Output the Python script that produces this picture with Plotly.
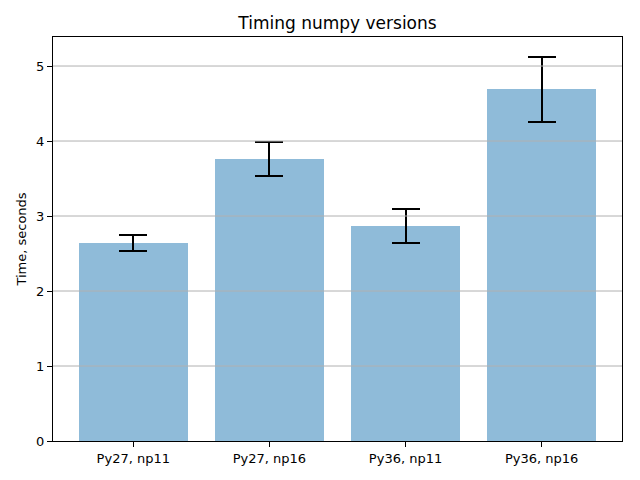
import plotly.graph_objects as go

# Timing results
labels = ['Py27, np11', 'Py27, np16', 'Py36, np11', 'Py36, np16']
times = [2.64, 3.76, 2.865, 4.69]
errors = [0.105, 0.225, 0.225, 0.43]
yticks = [0, 1, 2, 3, 4, 5]

fig = go.Figure()
fig.add_trace(go.Bar(x=list(range(len(labels))), y=times,
                     width=0.8,
                     marker=dict(color='#8fbbd9', line=dict(width=0)),
                     error_y=dict(type='data', array=errors, color='black',
                                  thickness=2, width=14)))

# matplotlib draws the grid over the bars, so do the same with shapes
for t in yticks[1:]:
    fig.add_shape(type='line', xref='paper', x0=0, x1=1, yref='y', y0=t, y1=t,
                  line=dict(color='#b0b0b0', width=1), layer='above')

axis_style = dict(showline=True, linecolor='black', linewidth=1, mirror=True,
                  ticks='outside', ticklen=5, tickcolor='black', automargin=False,
                  tickfont=dict(size=13, color='black'), zeroline=False)

# page body has an 8px margin, so the figure is 16px smaller than the window
fig.update_layout(
    width=632, height=472,
    title=dict(text='Timing numpy versions', xref='paper', x=0.5, xanchor='center',
               y=1 - 15 / 472, yanchor='middle',
               font=dict(size=17, color='black')),
    font=dict(family='DejaVu Sans', color='black'),
    paper_bgcolor='white', plot_bgcolor='white',
    margin=dict(l=45, r=18, t=29, b=39),
    showlegend=False,
    bargap=0,
)
fig.update_xaxes(tickvals=list(range(len(labels))), ticktext=labels,
                 range=[-0.59, 3.59], showgrid=False, **axis_style)
fig.update_yaxes(range=[0, 5.387], tickvals=yticks, showgrid=False,
                 title=dict(text='Time, seconds', font=dict(size=13), standoff=6),
                 **axis_style)

fig.write_html('out.html')
